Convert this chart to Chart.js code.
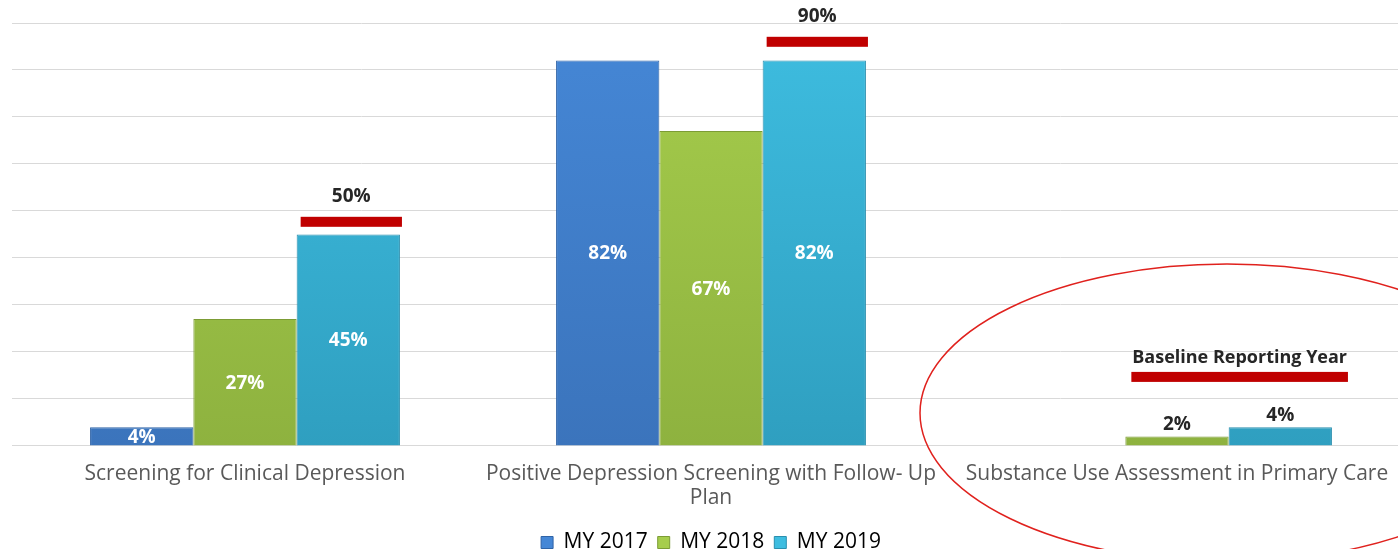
<!DOCTYPE html>
<html>
<head>
<meta charset="utf-8">
<script src="https://cdn.jsdelivr.net/npm/chart.js@4/dist/chart.umd.min.js"></script>
<style>
  html, body { margin: 0; padding: 0; background: #fff; overflow: hidden; }
  #wrap { position: absolute; left: 0; top: 0; width: 1412px; height: 563px; }
</style>
</head>
<body>
<div id="wrap"><canvas id="chart"></canvas></div>
<script>
// datos del grafico
const categories = [
  'Screening for Clinical Depression',
  ['Positive Depression Screening with Follow- Up', 'Plan'],
  'Substance Use Assessment in Primary Care'
];
const seriesNames = ['MY 2017', 'MY 2018', 'MY 2019'];
const my2017 = [4, 82, null];
const my2018 = [27, 67, 2];
const my2019 = [45, 82, 4];

// metas (linea roja) y su texto
const targetLevels = [47.7, 86, 14.7];
const targetTexts = ['50%', '90%', 'Baseline Reporting Year'];
const labelInside = [true, true, false];

const yTicks = [0, 10, 20, 30, 40, 50, 60, 70, 80, 90];

const FONT = "'Open Sans', 'Liberation Sans', sans-serif";
const topColors = ['#4587D6', '#A6CD4C', '#3EBDE0'];
const bottomColors = ['#3B74BC', '#8EB23F', '#2F9FC0'];
const borderColors = ['#2F63A6', '#7C9C35', '#2A8FAE'];

function barFill(i) {
  return function (ctx) {
    const area = ctx.chart.chartArea;
    if (!area) return topColors[i];
    const g = ctx.chart.ctx.createLinearGradient(0, area.top, 0, area.bottom);
    g.addColorStop(0, topColors[i]);
    g.addColorStop(1, bottomColors[i]);
    return g;
  };
}

// etiquetas de valores, lineas de meta y elipse
const extrasPlugin = {
  id: 'extras',
  afterDatasetsDraw(chart) {
    const c = chart.ctx;
    const x = chart.scales.x;
    const y = chart.scales.y;

    // etiquetas de porcentaje
    chart.data.datasets.forEach((ds, di) => {
      const meta = chart.getDatasetMeta(di);
      meta.data.forEach((bar, i) => {
        const v = ds.data[i];
        if (v == null) return;
        c.save();
        c.font = 'bold 19px ' + FONT;
        c.textAlign = 'center';
        c.textBaseline = 'middle';
        if (labelInside[i]) {
          c.fillStyle = '#ffffff';
          c.fillText(v + '%', bar.x, (bar.y + bar.base) / 2 + 1);
        } else {
          c.fillStyle = '#262626';
          c.fillText(v + '%', bar.x, bar.y - 12);
        }
        c.restore();
      });
    });

    // lineas rojas de meta
    const m1 = chart.getDatasetMeta(1);
    const m2 = chart.getDatasetMeta(2);
    targetLevels.forEach((lvl, i) => {
      const cyan = m2.data[i];
      let left = cyan.x - cyan.width / 2 + 4;
      let right = cyan.x + cyan.width / 2 + 2;
      if (!labelInside[i]) {
        const green = m1.data[i];
        left = green.x - green.width / 2 + 6;
        right = cyan.x + cyan.width / 2 + 16;
      }
      const py = y.getPixelForValue(lvl);
      c.save();
      c.fillStyle = '#C00000';
      c.fillRect(left, py - 5, right - left, 10);
      c.fillStyle = '#262626';
      c.textAlign = 'center';
      c.textBaseline = 'middle';
      if (labelInside[i]) {
        c.font = 'bold 19px ' + FONT;
        c.fillText(targetTexts[i], (left + right) / 2, py - 25);
      } else {
        c.font = 'bold 18px ' + FONT;
        c.fillText(targetTexts[i], (left + right) / 2, py - 19);
      }
      c.restore();
    });

    // elipse roja alrededor de la tercera categoria
    const cx = x.getPixelForValue(2) + 50;
    const cy = y.getPixelForValue(7);
    c.save();
    c.strokeStyle = '#E0211D';
    c.lineWidth = 1.5;
    c.beginPath();
    c.ellipse(cx, cy, 307, 149, 0, 0, Math.PI * 2);
    c.stroke();
    c.restore();
  }
};

const ctx = document.getElementById('chart').getContext('2d');
new Chart(ctx, {
  type: 'bar',
  data: {
    labels: categories,
    datasets: [my2017, my2018, my2019].map((d, i) => ({
      label: seriesNames[i],
      data: d,
      backgroundColor: barFill(i),
      borderColor: borderColors[i],
      borderWidth: 1,
      barPercentage: 1,
      categoryPercentage: 0.665
    }))
  },
  options: {
    responsive: true,
    maintainAspectRatio: false,
    animation: false,
    layout: { padding: { left: 12, right: 2, top: 23, bottom: 0 } },
    plugins: {
      tooltip: { enabled: false },
      legend: {
        position: 'bottom',
        labels: {
          font: { family: FONT, size: 21 },
          color: '#595959',
          boxWidth: 12,
          boxHeight: 12,
          padding: 10,
          generateLabels(chart) {
            return seriesNames.map((n, i) => ({
              text: n,
              fillStyle: topColors[i],
              strokeStyle: borderColors[i],
              lineWidth: 1,
              datasetIndex: i
            }));
          }
        }
      }
    },
    scales: {
      x: {
        grid: { display: false },
        border: { display: true, color: '#D9D9D9' },
        afterFit(scale) {
          scale.height += 4;
        },
        ticks: {
          color: '#595959',
          font: { family: FONT, size: 21, lineHeight: 1.143 },
          padding: 8,
          maxRotation: 0,
          autoSkip: false
        }
      },
      y: {
        min: 0,
        max: 90,
        afterBuildTicks(scale) {
          scale.ticks = yTicks.map(v => ({ value: v }));
        },
        ticks: { display: false },
        grid: { color: '#D9D9D9', lineWidth: 1, drawTicks: false },
        border: { display: false }
      }
    }
  },
  plugins: [extrasPlugin]
});
</script>
</body>
</html>
